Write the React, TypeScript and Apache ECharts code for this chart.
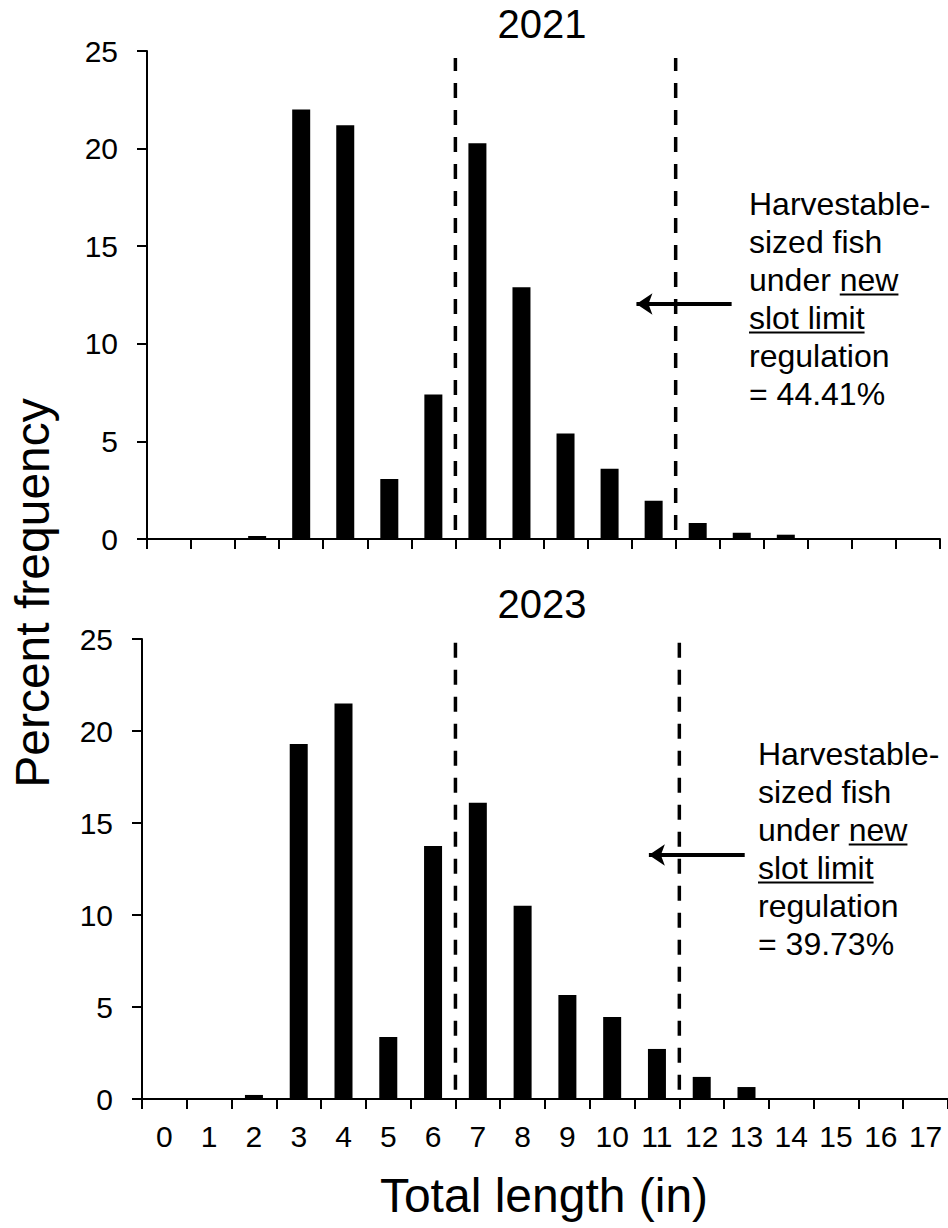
import React, { useEffect, useRef } from "react";
import * as echarts from "echarts";

const categories = ["0","1","2","3","4","5","6","7","8","9","10","11","12","13","14","15","16","17"];
const freq2021 = [0, 0, 0.15, 22.0, 21.2, 3.07, 7.4, 20.27, 12.9, 5.41, 3.6, 1.96, 0.82, 0.32, 0.22, 0, 0, 0];
const freq2023 = [0, 0, 0.22, 19.3, 21.5, 3.37, 13.75, 16.1, 10.5, 5.65, 4.46, 2.72, 1.2, 0.65, 0, 0, 0, 0];
const yTicks = { min: 0, max: 25, interval: 5 };
const slotLimits = [6.5, 11.5];
const dashRange2021 = [0.46, 24.64];
const dashRange2023 = [0.5, 24.9];
const arrow2021 = [[12.77, 12.04], [10.61, 12.04]];
const arrow2023 = [[12.96, 13.26], [10.82, 13.26]];
const panelTitles = ["2021", "2023"];
const note2021 = [
  { text: "Harvestable-" },
  { text: "sized fish" },
  { text: "under ", under: "new" },
  { text: "", under: "slot limit" },
  { text: "regulation" },
  { text: "= 44.41%" },
];
const note2023 = [
  { text: "Harvestable-" },
  { text: "sized fish" },
  { text: "under ", under: "new" },
  { text: "", under: "slot limit" },
  { text: "regulation" },
  { text: "= 39.73%" },
];
const yTitle = "Percent frequency";
const xTitle = "Total length (in)";

const FONT = '"Liberation Sans", Arial, Helvetica, sans-serif';

function measure(text: string, size: number) {
  const ctx = document.createElement("canvas").getContext("2d") as CanvasRenderingContext2D;
  ctx.font = `${size}px ${FONT}`;
  return ctx.measureText(text).width;
}

function noteGraphic(lines: { text: string; under?: string }[], x0: number, baseline0: number) {
  const size = 32;
  const lh = 38;
  const els: any[] = [];
  lines.forEach((ln, i) => {
    const base = baseline0 + i * lh;
    const full = ln.text + (ln.under || "");
    els.push({
      type: "text",
      x: x0,
      y: base - 11,
      silent: true,
      style: { text: full, fill: "#000", font: `${size}px ${FONT}`, align: "left", verticalAlign: "middle" },
    });
    if (ln.under) {
      const sx = x0 + measure(ln.text, size);
      const w = measure(ln.under, size);
      els.push({
        type: "line",
        silent: true,
        shape: { x1: sx, y1: base + 3.5, x2: sx + w, y2: base + 3.5 },
        style: { stroke: "#000", lineWidth: 2 },
      });
    }
  });
  return els;
}

export default function App() {
  const ref = useRef<HTMLDivElement>(null);
  useEffect(() => {
    if (!ref.current) return;
    const chart = echarts.init(ref.current, null, { renderer: "svg" });
    const axisLine = { show: true, onZero: false, lineStyle: { color: "#000", width: 2 } };
    const axisTick = { show: true, inside: false, length: 10, lineStyle: { color: "#000", width: 2 } };
    const yAxisBase = (gi: number) => ({
      type: "value",
      gridIndex: gi,
      min: yTicks.min,
      max: yTicks.max,
      interval: yTicks.interval,
      axisLine,
      axisTick,
      splitLine: { show: false },
      axisLabel: { fontSize: 30, color: "#000", fontFamily: FONT, margin: 29 },
    });
    const dashSeries = (xi: number, yi: number, range: number[]) =>
      slotLimits.map((lim) => ({
        type: "line",
        xAxisIndex: xi,
        yAxisIndex: yi,
        data: [[lim, range[0]], [lim, range[1]]],
        symbol: "none",
        silent: true,
        lineStyle: { color: "#000", width: 3.5, type: [15, 12] },
      }));
    const arrowSeries = (xi: number, yi: number, pts: number[][]) => ({
      type: "line",
      xAxisIndex: xi,
      yAxisIndex: yi,
      data: pts,
      symbol: "none",
      silent: true,
      lineStyle: { opacity: 0 },
      markLine: {
        silent: true,
        symbol: ["none", "arrow"],
        symbolSize: 16,
        label: { show: false },
        itemStyle: { color: "#000" },
        lineStyle: { color: "#000", width: 4, type: "solid" },
        data: [[{ coord: pts[0] }, { coord: pts[1] }]],
      },
    });
    chart.setOption({
      animation: false,
      grid: [
        { left: 147, top: 51, right: 8, height: 488 },
        { left: 142, top: 639, right: 0, height: 460 },
      ],
      xAxis: [
        { type: "category", gridIndex: 0, data: categories, axisLine, axisTick: { ...axisTick, interval: 0 }, axisLabel: { show: false } },
        {
          type: "category",
          gridIndex: 1,
          data: categories,
          axisLine,
          axisTick: { ...axisTick, interval: 0 },
          axisLabel: { interval: 0, fontSize: 30, color: "#000", fontFamily: FONT, margin: 22 },
        },
        { type: "value", gridIndex: 0, min: -0.5, max: 17.5, show: false },
        { type: "value", gridIndex: 1, min: -0.5, max: 17.5, show: false },
      ],
      yAxis: [yAxisBase(0), yAxisBase(1)],
      series: [
        { type: "bar", name: "2021", xAxisIndex: 0, yAxisIndex: 0, data: freq2021, barWidth: 18, itemStyle: { color: "#000" } },
        { type: "bar", name: "2023", xAxisIndex: 1, yAxisIndex: 1, data: freq2023, barWidth: 18, itemStyle: { color: "#000" } },
        ...dashSeries(2, 0, dashRange2021),
        ...dashSeries(3, 1, dashRange2023),
        arrowSeries(2, 0, arrow2021),
        arrowSeries(3, 1, arrow2023),
      ],
      graphic: [
        { type: "text", x: 542, y: 24, silent: true, style: { text: panelTitles[0], fill: "#000", font: `40px ${FONT}`, align: "center", verticalAlign: "middle" } },
        { type: "text", x: 542, y: 604, silent: true, style: { text: panelTitles[1], fill: "#000", font: `40px ${FONT}`, align: "center", verticalAlign: "middle" } },
        { type: "text", x: 32, y: 593, rotation: Math.PI / 2, silent: true, style: { text: yTitle, fill: "#000", font: `48px ${FONT}`, align: "center", verticalAlign: "middle" } },
        { type: "text", x: 544, y: 1195, silent: true, style: { text: xTitle, fill: "#000", font: `48px ${FONT}`, align: "center", verticalAlign: "middle" } },
        ...noteGraphic(note2021, 749, 215),
        ...noteGraphic(note2023, 758, 765),
      ],
    });
    return () => chart.dispose();
  }, []);
  return <div ref={ref} style={{ position: "absolute", left: 0, top: 0, width: 948, height: 1228 }} />;
}
